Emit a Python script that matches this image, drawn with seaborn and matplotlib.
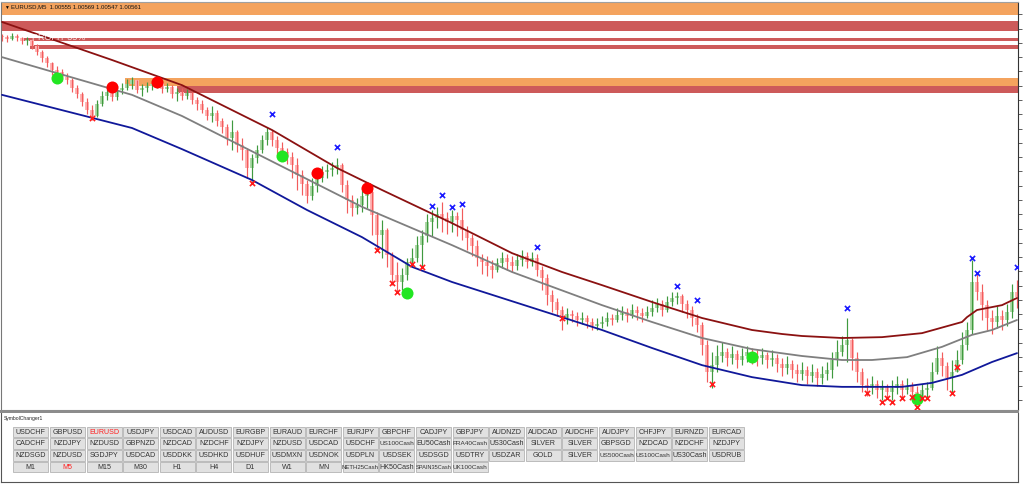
import numpy as np
import pandas as pd
import matplotlib
matplotlib.use("Agg")
import matplotlib.pyplot as plt
from matplotlib.patches import Rectangle
import seaborn as sns

# EURUSD M5 bars, prices in points above 1.00000 (1 point = 0.00001)
first_open = 1474
close_pts = [
    1470, 1464, 1474, 1467, 1456, 1460, 1439, 1418, 1397, 1380,
    1355, 1348, 1330, 1320, 1292, 1271, 1243, 1215, 1194, 1236,
    1264, 1278, 1260, 1285, 1292, 1306, 1320, 1285, 1292, 1299,
    1306, 1310, 1288, 1296, 1271, 1278, 1264, 1274, 1250, 1236,
    1215, 1194, 1204, 1176, 1156, 1117, 1138, 1092, 1075, 1012,
    1047, 1075, 1110, 1138, 1110, 1082, 1068, 1050, 1022, 988,
    956, 914, 949, 977, 998, 1005, 1012, 1022, 952, 900,
    872, 882, 914, 928, 848, 778, 795, 708, 638, 613,
    638, 683, 697, 742, 774, 823, 837, 851, 837, 823,
    844, 830, 795, 767, 739, 697, 683, 669, 655, 680,
    697, 683, 669, 690, 704, 683, 697, 655, 627, 568,
    543, 515, 487, 501, 494, 480, 487, 473, 459, 466,
    473, 487, 480, 498, 508, 494, 515, 504, 494, 508,
    522, 536, 515, 543, 557, 564, 536, 515, 487, 462,
    392, 298, 322, 354, 368, 347, 361, 340, 354, 368,
    354, 347, 358, 340, 347, 326, 312, 326, 305, 291,
    305, 284, 298, 277, 291, 305, 340, 368, 392, 410,
    347, 298, 252, 242, 256, 235, 249, 228, 242, 256,
    235, 249, 228, 214, 235, 242, 298, 347, 319, 277,
    298, 340, 392, 445, 613, 578, 532, 487, 473, 494,
    480, 508, 578, 561,
]
high_pts = [
    1481, 1478, 1484, 1481, 1470, 1470, 1460, 1446, 1425, 1404,
    1383, 1369, 1358, 1344, 1327, 1302, 1278, 1257, 1232, 1250,
    1282, 1299, 1296, 1299, 1310, 1324, 1330, 1320, 1306, 1313,
    1320, 1320, 1313, 1310, 1302, 1292, 1292, 1288, 1278, 1260,
    1250, 1226, 1229, 1215, 1187, 1166, 1180, 1145, 1117, 1082,
    1061, 1092, 1128, 1156, 1145, 1124, 1103, 1082, 1068, 1047,
    1005, 970, 977, 998, 1019, 1026, 1033, 1047, 1030, 970,
    918, 907, 942, 949, 935, 858, 830, 802, 718, 683,
    662, 697, 732, 774, 795, 851, 865, 876, 893, 858,
    865, 858, 872, 809, 781, 760, 711, 704, 690, 697,
    718, 711, 704, 711, 725, 718, 718, 711, 669, 641,
    585, 557, 529, 522, 515, 508, 508, 498, 487, 487,
    494, 508, 501, 522, 529, 522, 536, 529, 522, 529,
    550, 557, 550, 564, 578, 578, 571, 550, 529, 501,
    473, 410, 368, 392, 403, 382, 389, 375, 382, 389,
    382, 375, 382, 368, 375, 361, 347, 354, 340, 326,
    333, 319, 326, 312, 319, 333, 368, 410, 424, 487,
    417, 368, 312, 277, 284, 270, 270, 256, 270, 284,
    270, 277, 263, 249, 256, 263, 333, 389, 368, 333,
    340, 375, 438, 473, 690, 648, 606, 550, 515, 529,
    515, 536, 606, 620,
]
low_pts = [
    1456, 1453, 1460, 1456, 1446, 1442, 1428, 1408, 1383, 1366,
    1338, 1327, 1316, 1306, 1278, 1257, 1229, 1201, 1180, 1190,
    1229, 1250, 1246, 1250, 1271, 1285, 1288, 1274, 1264, 1278,
    1285, 1292, 1274, 1278, 1257, 1246, 1250, 1254, 1236, 1215,
    1204, 1180, 1173, 1159, 1134, 1092, 1075, 1068, 1040, 977,
    966, 1030, 1064, 1092, 1089, 1058, 1040, 1026, 977, 935,
    918, 890, 900, 928, 963, 977, 984, 991, 928, 854,
    844, 851, 858, 872, 778, 725, 697, 666, 602, 582,
    585, 620, 676, 683, 669, 753, 774, 802, 788, 781,
    788, 774, 760, 725, 704, 669, 641, 634, 627, 648,
    662, 655, 648, 655, 669, 662, 669, 634, 585, 532,
    508, 494, 445, 466, 473, 459, 466, 452, 445, 445,
    452, 459, 462, 473, 480, 473, 487, 480, 473, 487,
    494, 508, 494, 508, 529, 536, 508, 487, 459, 438,
    358, 263, 242, 298, 333, 319, 326, 312, 322, 333,
    326, 319, 326, 312, 319, 298, 284, 291, 277, 263,
    270, 256, 263, 249, 256, 270, 277, 319, 354, 333,
    305, 263, 228, 214, 221, 207, 200, 204, 200, 221,
    210, 221, 207, 190, 207, 210, 235, 291, 284, 235,
    228, 305, 326, 375, 431, 550, 480, 445, 431, 452,
    445, 459, 487, 522,
]

# channel lines (bar index, points)
upper_idx = [0, 22, 36, 54, 67, 76, 90, 102, 112, 120, 130, 140, 150, 156, 160, 168, 176, 184, 192, 193, 195, 200, 203]
upper_pts = [1523, 1390, 1302, 1145, 1012, 935, 819, 714, 648, 602, 543, 487, 445, 431, 424, 417, 420, 434, 473, 490, 515, 532, 557]
mid_idx = [0, 26, 36, 72, 90, 102, 120, 130, 140, 150, 160, 168, 174, 181, 188, 194, 198, 203]
mid_pts = [1400, 1268, 1194, 876, 742, 648, 532, 473, 417, 378, 354, 340, 340, 350, 386, 428, 445, 480]
lower_idx = [0, 26, 36, 50, 61, 72, 82, 90, 100, 120, 130, 140, 150, 160, 168, 180, 186, 192, 198, 203]
lower_pts = [1268, 1152, 1078, 970, 865, 770, 666, 613, 557, 445, 382, 322, 280, 252, 246, 246, 260, 288, 333, 364]

# signals
sell_dot_idx = [22, 31, 63, 73]
sell_dot_pts = [1296, 1313, 994, 942]
buy_dot_idx = [11, 56, 81, 150, 183]
buy_dot_pts = [1327, 1054, 574, 350, 204]
top_x_idx = [54, 67, 86, 88, 90, 92, 107, 135, 139, 169, 194, 195, 203]
top_x_pts = [1201, 1086, 879, 918, 876, 886, 736, 599, 550, 522, 697, 644, 666]
bot_x_idx = [18, 50, 75, 78, 79, 82, 84, 112, 142, 173, 176, 177, 178, 180, 182, 183, 184, 185, 190, 191]
bot_x_pts = [1187, 960, 725, 610, 578, 676, 666, 487, 256, 224, 193, 207, 193, 207, 210, 176, 207, 207, 224, 316]

# supply / demand zones
zone_lo = [1548, 1492, 1456, 1428, 1299, 1274]
zone_hi = [1700, 1526, 1467, 1442, 1327, 1299]
zone_from = [-0.2, -0.2, 3.6, 5.6, 24.6, 35]
zone_kind = ["orange", "red", "red", "red", "orange", "red"]

title = "EURUSD,M5  1.00555 1.00569 1.00547 1.00561"
buttons = [
    ["USDCHF", "GBPUSD", "EURUSD", "USDJPY", "USDCAD", "AUDUSD", "EURGBP", "EURAUD", "EURCHF", "EURJPY",
     "GBPCHF", "CADJPY", "GBPJPY", "AUDNZD", "AUDCAD", "AUDCHF", "AUDJPY", "CHFJPY", "EURNZD", "EURCAD"],
    ["CADCHF", "NZDJPY", "NZDUSD", "GBPNZD", "NZDCAD", "NZDCHF", "NZDJPY", "NZDUSD", "USDCAD", "USDCHF",
     "US100Cash", "EU50Cash", "FRA40Cash", "US30Cash", "SILVER", "SILVER", "GBPSGD", "NZDCAD", "NZDCHF", "NZDJPY"],
    ["NZDSGD", "NZDUSD", "SGDJPY", "USDCAD", "USDDKK", "USDHKD", "USDHUF", "USDMXN", "USDNOK", "USDPLN",
     "USDSEK", "USDSGD", "USDTRY", "USDZAR", "GOLD", "SILVER", "US500Cash", "US100Cash", "US30Cash", "USDRUB"],
    ["M1", "M5", "M15", "M30", "H1", "H4", "D1", "W1", "MN", "NETH25Cash", "HK50Cash", "SPAIN35Cash", "UK100Cash"],
]
active = {"EURUSD", "M5"}

sns.set_style("white")
plt.rcParams["font.family"] = ["Liberation Sans", "DejaVu Sans"]

W, H = 1024, 487


def box(x0, y0, x1, y1):
    return [x0 / W, 1 - y1 / H, (x1 - x0) / W, (y1 - y0) / H]


def to_price(p):
    return 1 + np.asarray(p, dtype=float) / 1e5


fig = plt.figure(figsize=(W / 100, H / 100), dpi=100, facecolor="white")
ax = fig.add_axes(box(1, 2, 1018, 410))
panel = fig.add_axes(box(1, 413, 1018, 482))
ui = fig.add_axes([0, 0, 1, 1], zorder=5)
ui.set_xlim(0, W)
ui.set_ylim(H, 0)
ui.axis("off")
ui.patch.set_alpha(0)

xlim = (-0.2, 203.2)

# bars
df = pd.DataFrame({"close": close_pts, "high": high_pts, "low": low_pts})
df["i"] = np.arange(len(df))
df["open"] = [first_open] + close_pts[:-1]
df["high"] = df[["high", "open", "close"]].max(axis=1)
df["low"] = df[["low", "open", "close"]].min(axis=1)
up = df["close"] >= df["open"]

zone_colors = {"orange": "#f4a35e", "red": "#cd5a5a"}
for lo, hi, x0, kind in zip(zone_lo, zone_hi, zone_from, zone_kind):
    ax.fill_between([x0, xlim[1]], to_price(lo), to_price(hi), color=zone_colors[kind], lw=0, zorder=0.5)

body_lo = df[["open", "close"]].min(axis=1)
body_h = (df["open"] - df["close"]).abs().clip(lower=1.5)
ax.bar(df["i"], body_h / 1e5, bottom=to_price(body_lo), width=0.7,
       color=np.where(up, "#aed8a8", "#ffb5b5"), lw=0, zorder=2)
ax.vlines(df["i"][up], to_price(df["low"][up]), to_price(df["high"][up]), color="#3f9a3f", lw=0.85, zorder=2.5)
ax.vlines(df["i"][~up], to_price(df["low"][~up]), to_price(df["high"][~up]), color="#f25c5c", lw=0.85, zorder=2.5)

# channel
sns.lineplot(x=upper_idx, y=to_price(upper_pts), ax=ax, color="#8b1111", lw=1.3, zorder=3)
sns.lineplot(x=mid_idx, y=to_price(mid_pts), ax=ax, color="#7f7f7f", lw=1.3, zorder=3)
sns.lineplot(x=lower_idx, y=to_price(lower_pts), ax=ax, color="#10189a", lw=1.3, zorder=3)

# signals
sns.scatterplot(x=sell_dot_idx, y=to_price(sell_dot_pts), ax=ax, color="#ff0000", s=75, linewidth=0, zorder=4)
sns.scatterplot(x=buy_dot_idx, y=to_price(buy_dot_pts), ax=ax, color="#22e622", s=75, linewidth=0, zorder=4)
sns.scatterplot(x=top_x_idx, y=to_price(top_x_pts), ax=ax, color="#1a1aff", marker="x", s=14, linewidth=1.2, zorder=4)
sns.scatterplot(x=bot_x_idx, y=to_price(bot_x_pts), ax=ax, color="#ff1a1a", marker="x", s=14, linewidth=1.2, zorder=4)

ax.set_xlim(*xlim)
ax.set_ylim(to_price(165), to_price(1593))
ax.set_xticks([])
ax.yaxis.tick_right()
ax.set_yticks(to_price(np.arange(200, 1600, 50)))
ax.tick_params(axis="y", direction="out", length=3, width=0.6, color="#444444", labelright=False)
ax.set_xlabel("")
ax.set_ylabel("")
for side, c in [("left", "#777777"), ("right", "#333333"), ("top", "#a0a0a0"), ("bottom", "#a0a0a0")]:
    ax.spines[side].set_color(c)
    ax.spines[side].set_linewidth(0.8)

fig.text(32 / W, 1 - 38 / H, "PROFIT 35%", color="white", alpha=0.8, fontsize=6.5, ha="left", va="center")
fig.text(4 / W, 1 - 7 / H, "\u25bc", fontsize=3.5, color="black", ha="left", va="center")
fig.text(11 / W, 1 - 7 / H, title, fontsize=4.3, color="#111111", ha="left", va="center")

# sub window
panel.set_xlim(*xlim)
panel.set_ylim(0, 1)
panel.set_xticks(np.arange(0, 204, 7))
panel.set_yticks([])
panel.tick_params(axis="x", direction="out", length=4, width=0.6, color="#555555", labelbottom=False)
for side in panel.spines:
    panel.spines[side].set_color("#555555")
    panel.spines[side].set_linewidth(0.8)
panel.spines["top"].set_visible(False)

ui.add_patch(Rectangle((0, 410), 1019, 3, color="#8c8c8c", lw=0))
fig.text(4 / W, 1 - 418.5 / H, "SymbolChanger1", fontsize=3.6, color="#222222", ha="left", va="center")

bx0, by0, pitch_x, pitch_y, bw, bh = 13.3, 426.5, 36.6, 11.7, 35, 10.6
for r, row in enumerate(buttons):
    for c, label in enumerate(row):
        x0 = bx0 + c * pitch_x
        y0 = by0 + r * pitch_y
        rect = Rectangle((x0, y0), bw, bh, facecolor="#e1e1e1", edgecolor="#b4b4b4", lw=0.6)
        ui.add_patch(rect)
        size = 5.1 if len(label) <= 8 else 4.6 - 0.25 * (len(label) - 9)
        t = ui.text(x0 + bw / 2, y0 + bh / 2 + 0.3, label, fontsize=size, ha="center", va="center",
                    color="#ff2020" if label in active else "#333333")
        t.set_clip_path(rect)

fig.savefig("out.png", dpi=100, facecolor="white")
